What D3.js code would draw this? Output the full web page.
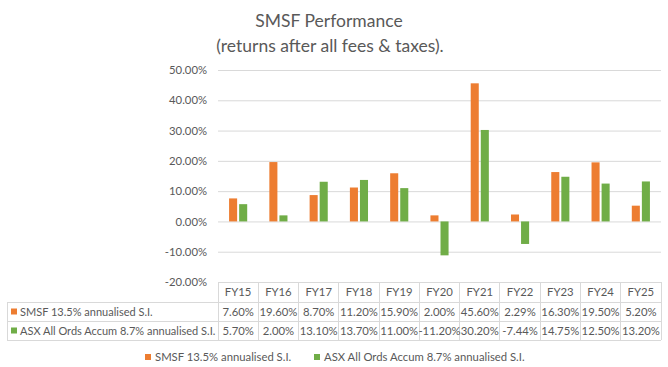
<!DOCTYPE html>
<html><head><meta charset="utf-8">
<script src="https://cdn.jsdelivr.net/npm/d3@7"></script>
<style>body{margin:0;background:#fff}svg{display:block}text{font-family:Lato,"Liberation Sans",sans-serif}</style>
</head><body>
<script>
const categories = ["FY15","FY16","FY17","FY18","FY19","FY20","FY21","FY22","FY23","FY24","FY25"];
const seriesNames = ["SMSF 13.5% annualised S.I.","ASX All Ords Accum 8.7% annualised S.I."];
const smsf = [7.60,19.60,8.70,11.20,15.90,2.00,45.60,2.29,16.30,19.50,5.20];
const asx = [5.70,2.00,13.10,13.70,11.00,-11.20,30.20,-7.44,14.75,12.50,13.20];
const smsfLabels = ["7.60%","19.60%","8.70%","11.20%","15.90%","2.00%","45.60%","2.29%","16.30%","19.50%","5.20%"];
const asxLabels = ["5.70%","2.00%","13.10%","13.70%","11.00%","-11.20%","30.20%","-7.44%","14.75%","12.50%","13.20%"];
const yTicks = [-20,-10,0,10,20,30,40,50];
const colors = ["#ED7D31","#70AD47"];

(function(){
const W=668,H=367;
const svg=d3.select("body").append("svg").attr("width",W).attr("height",H);
const pLeft=218,pRight=661,pTop=70,pBottom=282;
const x=d3.scaleBand().domain(categories).range([pLeft,pRight]);
const cw=x.step();
const x1=d3.scaleBand().domain([0,1]).range([cw*0.275,cw*0.725]).paddingInner(0.2);
const y=d3.scaleLinear().domain([-20,50]).range([pBottom,pTop]);
const txt="#595959", grid="#D9D9D9";
const fs=11.3;

// title
svg.append("text").attr("x",329).attr("y",27).attr("text-anchor","middle").attr("font-size",17.5).attr("fill",txt).text("SMSF Performance");
svg.append("text").attr("x",330).attr("y",52).attr("text-anchor","middle").attr("font-size",17.5).attr("fill",txt).text("(returns after all fees & taxes).");

// gridlines + y axis labels
const yAxis=d3.axisLeft(y).tickValues(yTicks).tickFormat(d=>d.toFixed(2)+"%").tickSize(-(pRight-pLeft)).tickPadding(11);
const ga=svg.append("g").attr("transform",`translate(${pLeft},0)`).call(yAxis);
ga.select(".domain").remove();
ga.selectAll(".tick line").attr("stroke",grid);
ga.selectAll(".tick text").attr("fill",txt).attr("font-size",fs).attr("font-family","Lato,'Liberation Sans',sans-serif");

// bars
const data=categories.map((c,i)=>({c,v:[smsf[i],asx[i]]}));
const g=svg.append("g");
data.forEach(d=>{
  d.v.forEach((v,k)=>{
    g.append("rect").attr("x",x(d.c)+x1(k)).attr("width",x1.bandwidth())
     .attr("y",y(Math.max(0,v))).attr("height",Math.abs(y(v)-y(0))).attr("fill",colors[k]);
  });
});

// data table
const tl=7, r0=282, r1=302, r2=321, r3=340;
const tg=svg.append("g").attr("stroke",grid).attr("stroke-width",1).attr("shape-rendering","crispEdges");
[r1,r2,r3].forEach(yy=>tg.append("line").attr("x1",tl).attr("x2",pRight).attr("y1",yy).attr("y2",yy));
tg.append("line").attr("x1",tl).attr("x2",tl).attr("y1",r1).attr("y2",r3);
categories.forEach(c=>tg.append("line").attr("x1",x(c)).attr("x2",x(c)).attr("y1",r0).attr("y2",r3));
tg.append("line").attr("x1",pRight).attr("x2",pRight).attr("y1",r0).attr("y2",r3);

categories.forEach((c,i)=>{
  const cx=x(c)+cw/2;
  svg.append("text").attr("x",cx).attr("y",(r0+r1)/2+4.3).attr("text-anchor","middle").attr("font-size",fs).attr("fill",txt).text(c);
  svg.append("text").attr("x",cx).attr("y",(r1+r2)/2+4.3).attr("text-anchor","middle").attr("font-size",fs).attr("fill",txt).text(smsfLabels[i]);
  svg.append("text").attr("x",cx).attr("y",(r2+r3)/2+4.3).attr("text-anchor","middle").attr("font-size",fs).attr("fill",txt).text(asxLabels[i]);
});
[[r1,r2],[r2,r3]].forEach(([a,b],k)=>{
  const cy=(a+b)/2;
  svg.append("rect").attr("x",11).attr("y",cy-3).attr("width",6).attr("height",6).attr("fill",colors[k]);
  svg.append("text").attr("x",20).attr("y",cy+4.2).attr("font-size",11).attr("fill",txt).text(seriesNames[k]);
});

// legend
const lx=[145,314];
seriesNames.forEach((s,k)=>{
  svg.append("rect").attr("x",lx[k]).attr("y",354).attr("width",6).attr("height",6).attr("fill",colors[k]);
  svg.append("text").attr("x",lx[k]+10).attr("y",361).attr("font-size",fs).attr("fill",txt).text(s);
});
})();
</script>
</body></html>
